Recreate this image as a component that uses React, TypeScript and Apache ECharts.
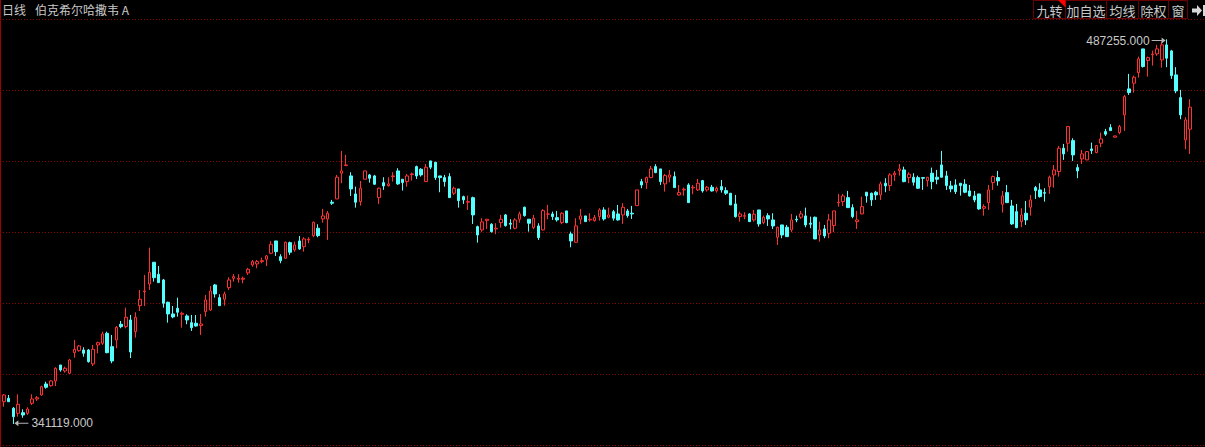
import { useEffect, useRef } from "react";
import * as echarts from "echarts";

// Daily OHLC (open, close, low, high)
const OPEN = [
349593,350885,347085,345185,345413,345185,348985,350619,352139,356319,
355673,357459,363539,361259,360385,368213,368973,369239,369239,363919,
371139,371785,375585,370493,373039,379005,378093,380639,376193,386073,
391393,394319,402565,398005,395839,387365,382919,385085,382805,382159,
379613,379385,378473,383793,384439,393939,389113,388505,392913,396485,
396105,396105,398499,401539,401919,402793,403705,405985,410659,404693,
404085,410013,407239,410659,408493,411039,412673,415485,419019,419019,
425365,426619,436385,439273,435359,428519,425593,434105,435739,435359,
427113,432813,431673,435093,437259,434105,433193,435853,438893,437905,
433193,441059,440565,435359,434713,435093,428785,430419,427493,425365,
427113,416093,414839,418373,417005,415219,417613,420539,417385,415485,
418905,423465,418905,415713,416359,414839,420805,420919,419513,417613,
422059,413319,410165,418905,420159,418639,418373,419893,422439,419665,
421793,420919,420539,422059,421185,424073,433193,432813,434713,438893,
438019,432319,434865,435093,428139,430039,431939,430799,430039,433573,
430039,431065,429659,431293,429773,428785,424719,419893,420045,420919,
418639,422439,417613,420273,418639,412065,416739,415865,414839,418905,
419665,420159,417385,419665,412939,415219,413585,416473,425099,425593,
427113,423313,417993,420919,429165,428785,429165,428139,432585,431673,
435739,437373,437639,434713,434865,434713,434713,433573,436385,434865,
439539,435359,431559,431939,432585,432205,429659,427759,428519,423085,
425213,432813,434713,424605,429013,423959,421793,417993,421185,423465,
430913,430039,429013,431293,435739,436993,445885,447785,448773,438513,
441819,441439,445619,444213,447785,452193,453713,450065,451813,458539,
468419,470585,474613,483619,479173,481339,481719,479439,485139,482859,
473739,465113,449039,453105,
];
const CLOSE = [
352139,349593,343893,348605,344539,346819,350619,351113,355293,355065,
357459,362285,361639,362285,365439,369505,370759,367985,364793,369505,
372013,375319,368213,365059,377865,378093,381665,368479,381665,388505,
391659,398765,396713,394813,386985,382919,381779,383565,383185,380639,
377713,378359,379119,388239,391659,390519,386073,390519,395839,397093,
396485,396485,399905,402793,402793,403173,404959,409405,406593,403173,
410165,406365,409139,407619,411419,411305,417765,412673,420159,421185,
424985,434865,437259,439539,430419,425365,430685,437259,434485,432205,
430685,431559,432319,435359,432319,432813,435359,436119,435359,435739,
438665,438665,434713,434713,433193,427113,430685,425973,426239,425593,
420539,412939,417879,418905,414193,415485,418905,416473,417005,418639,
420919,420273,417385,419285,411913,422173,420919,419893,418639,421185,
417613,410659,416359,420159,417993,418905,419513,422439,419019,420539,
419285,418639,423465,420273,420919,430039,431939,434713,438019,436613,
433193,435473,435739,430913,429013,430305,425213,431065,432585,429659,
431065,429659,430685,430039,428785,424339,419893,420919,420273,417993,
420805,417119,419665,419019,416359,415865,412939,412293,418639,418639,
420919,416739,417005,411419,414839,412559,418639,422059,425365,427759,
423313,419893,418639,423693,427759,426239,428139,432319,431559,435739,
436385,438019,433193,436005,432965,430685,434485,434865,433193,434105,
434865,431673,430419,429393,431673,429165,427759,426239,422819,423693,
430039,435093,433459,427759,425213,417119,415713,420539,418639,426239,
429773,427493,428785,434865,437639,445885,443719,454093,443339,437259,
443719,444593,444973,446873,449419,451205,452573,450559,454093,465493,
467013,472865,479819,476893,480313,481605,483619,485139,480085,473473,
467659,458539,456639,461465,
];
const LOW = [
347693,349593,341119,343893,343513,344539,348339,349859,351873,354533,
355293,355559,360993,360613,360119,366313,368593,366693,364413,363159,
367985,371139,367985,364185,369885,377485,377485,366199,373913,384059,
385959,392039,395193,394813,385313,379613,381285,381893,377713,379005,
376459,378093,374939,381893,384059,389113,385959,386073,392039,395193,
394813,394585,397739,400893,400285,402185,401159,405605,404959,402185,
403819,405339,406593,407239,406593,409785,412065,412065,417613,411039,
424339,426619,432585,439273,427759,423313,424073,434105,432813,431939,
424719,430039,431293,433193,431939,429773,431293,433573,434219,435093,
433193,437905,433839,429165,431293,427113,428139,423313,424719,422439,
417119,410013,414079,415219,413813,413205,415713,416093,415105,415105,
417613,419893,414193,415105,411039,414573,418905,418639,417993,417005,
417385,408265,410013,417005,417993,417993,417993,418373,418373,419285,
418373,418373,417119,419513,419019,424073,430685,430419,434485,436385,
431939,429393,432965,430913,427873,427873,425213,428405,429659,429013,
429393,429393,429013,429013,428139,424339,419513,417993,418905,417993,
417993,416093,417005,416359,415219,409139,411685,412293,413965,417765,
419019,415865,415485,411419,410393,411685,411685,413965,423693,423959,
423313,419285,415219,420805,425213,423959,426239,426239,429165,429659,
433459,435473,432965,432585,431673,430419,430039,431293,430305,432205,
434865,430039,429165,428519,427873,428785,427493,425365,422439,420273,
422439,430039,431673,421413,425213,416739,415485,415865,416739,420273,
426619,427113,425593,428519,430913,435093,441439,444593,441059,434485,
439919,441439,443719,443985,446265,450559,452573,450065,451205,452459,
466139,467013,472713,476513,473093,477273,480959,476513,476665,472219,
466785,456905,445505,443719,
];
const HIGH = [
352519,352139,347579,352405,346705,347465,352405,351759,355673,357193,
357839,362665,363539,362893,365819,373039,371139,370265,369619,371139,
372393,376193,376193,374939,378359,380259,385313,382539,383565,392039,
397739,408113,402565,401159,396219,387593,385959,389113,383793,382805,
382539,382539,382919,390139,393559,394319,390405,391393,396865,398119,
398005,397093,400399,403439,403439,404313,405339,410659,410659,405605,
410393,410393,410393,412559,412065,412065,417993,417005,422819,422059,
426239,435739,444859,443339,436765,431293,433459,437259,436119,435739,
430913,434865,434865,436765,438285,434105,436119,436613,439273,438285,
439919,441059,440565,435359,435739,436385,431293,430419,427873,427873,
427493,416473,419285,418905,417385,417385,420539,420919,418905,419285,
421793,423693,418905,420539,417385,422705,424339,421793,422059,421565,
422059,414193,419285,422819,420159,421185,420539,423085,423465,423313,
422439,424339,424985,422819,423959,430039,434219,435093,439159,439805,
438019,436119,437639,436993,431939,430913,432585,431939,434219,433839,
431559,431939,431293,433839,431065,428785,428139,421793,421565,421185,
422439,422439,420273,421185,421185,416093,416739,416739,420919,420273,
422059,423313,419893,419893,417993,416739,420919,422059,428519,428519,
429659,424605,422059,427493,429165,429013,429659,433193,434485,436385,
437259,439919,438893,436765,436385,435473,434713,434865,438513,437639,
444859,437259,433459,434105,432585,434105,431939,429659,428519,424605,
431939,435473,437259,429659,431939,426239,424719,423085,425859,428139,
431559,432585,430685,435473,439539,446759,447519,454359,449685,439805,
445239,444593,448013,447139,451813,453219,455005,450559,454739,466139,
474119,473473,480693,483619,480693,482973,485139,486393,487255,483239,
476665,468039,457665,464505,
];
const DAYS = OPEN.map((_, i) => String(i + 1));

const TITLE_PERIOD = "日线";
const TITLE_NAME = "伯克希尔哈撒韦 A";
const BUTTONS = ["九转", "加自选", "均线", "除权", "窗"];

// layout constants
const W = 1205;
const H = 447;
const GRID_TOP = 19.5;
const GRID_BOTTOM = 1.5;
const Y_MIN = 332950;
const Y_MAX = 494780;
const UP = "#ff3232";
const DOWN = "#54ffff";
const GRIDLINE = "#8c0000";
const TEXT = "#c8c8c8";
const CJK = "'Noto Sans CJK SC', 'Noto Sans', sans-serif";
const LATIN = "'Liberation Sans', Arial, sans-serif";

export default function App() {
  const ref = useRef<HTMLDivElement>(null);
  useEffect(() => {
    const chart = echarts.init(ref.current!, null, { renderer: "svg" });
    const data = OPEN.map((o, i) => [o, CLOSE[i], LOW[i], HIGH[i]]);

    const btnEdges = [1033.5, 1065.5, 1106.5, 1138.5, 1168.5, 1187.5];
    const graphics: any[] = [];
    graphics.push({
      type: "text",
      left: 2,
      top: 3,
      style: { text: TITLE_PERIOD, fill: TEXT, font: `12px ${CJK}` },
    });
    graphics.push({
      type: "text",
      left: 35,
      top: 3,
      style: { text: TITLE_NAME, fill: TEXT, font: `12px ${CJK}` },
    });
    BUTTONS.forEach((b, i) => {
      const x0 = btnEdges[i];
      const x1 = btnEdges[i + 1];
      graphics.push({
        type: "rect",
        shape: { x: x0, y: 0.5, width: x1 - x0, height: 18 },
        style: { fill: "#000", stroke: "#6a0000", lineWidth: 1 },
      });
      graphics.push({
        type: "text",
        x: (x0 + x1) / 2,
        y: 10,
        style: {
          text: b,
          fill: TEXT,
          font: `13px ${CJK}`,
          align: "center",
          verticalAlign: "middle",
        },
      });
    });
    graphics.push({
      type: "polygon",
      shape: { points: [[1058, 0], [1065.5, 0], [1065.5, 7.5]] },
      style: { fill: "#ff0000" },
    });
    graphics.push({
      type: "polygon",
      shape: {
        points: [
          [1192, 8.5], [1197, 8.5], [1197, 5], [1202, 10.5],
          [1197, 16], [1197, 12.5], [1192, 12.5],
        ],
      },
      style: { fill: "#d8d8d8" },
    });
    graphics.push({
      type: "rect",
      shape: { x: 1203, y: 5, width: 2, height: 11 },
      style: { fill: "#d8d8d8" },
    });
    graphics.push({
      type: "line",
      shape: { x1: 0.5, y1: 0, x2: 0.5, y2: H },
      style: { stroke: "#a00000", lineWidth: 1 },
    });

    const option: any = {
      animation: false,
      backgroundColor: "#000",
      grid: [
        { left: 1.66, right: 12.6, top: GRID_TOP, bottom: GRID_BOTTOM },
        { left: 0, right: 0, top: GRID_TOP, bottom: GRID_BOTTOM },
      ],
      xAxis: [
        {
          type: "category",
          data: DAYS,
          gridIndex: 0,
          boundaryGap: true,
          axisLine: { show: false },
          axisTick: { show: false },
          axisLabel: { show: false },
          splitLine: { show: false },
        },
        { type: "value", gridIndex: 1, show: false, min: 0, max: 1 },
      ],
      yAxis: [
        {
          type: "value",
          gridIndex: 0,
          min: Y_MIN,
          max: Y_MAX,
          axisLine: { show: false },
          axisTick: { show: false },
          axisLabel: { show: false },
          splitLine: { show: false },
        },
        {
          type: "value",
          gridIndex: 1,
          min: 0,
          max: 6,
          interval: 1,
          axisLine: { show: false },
          axisTick: { show: false },
          axisLabel: { show: false },
          splitLine: {
            show: true,
            lineStyle: { color: GRIDLINE, width: 1, type: [1, 2] },
          },
        },
      ],
      series: [
        {
          type: "candlestick",
          xAxisIndex: 0,
          yAxisIndex: 0,
          data,
          barWidth: 3,
          itemStyle: {
            color: "#000",
            color0: DOWN,
            borderColor: UP,
            borderColor0: DOWN,
            borderWidth: 1,
          },
          markPoint: {
            silent: true,
            data: [
              {
                type: "max",
                valueDim: "highest",
                symbol: "path://M0,3L10,3L10,0.5L14,3.5L10,6.5L10,4L0,4Z",
                symbolSize: [14, 6],
                symbolOffset: [-8, 1.2],
                itemStyle: { color: "#b4b4b4" },
                label: {
                  show: true,
                  position: "left",
                  distance: 2,
                  color: TEXT,
                  fontSize: 12,
                  fontFamily: LATIN,
                  formatter: (p: any) => Number(p.value).toFixed(3),
                },
              },
              {
                type: "min",
                valueDim: "lowest",
                symbol: "path://M14,3L4,3L4,0.5L0,3.5L4,6.5L4,4L14,4Z",
                symbolSize: [14, 6],
                symbolOffset: [8, -0.7],
                itemStyle: { color: "#b4b4b4" },
                label: {
                  show: true,
                  position: "right",
                  distance: 3,
                  color: TEXT,
                  fontSize: 12,
                  fontFamily: LATIN,
                  formatter: (p: any) => Number(p.value).toFixed(3),
                },
              },
            ],
          },
        },
      ],
      graphic: graphics,
    };
    chart.setOption(option);
    return () => chart.dispose();
  }, []);
  return (
    <div
      ref={ref}
      style={{ position: "fixed", left: 0, top: 0, width: W, height: H, background: "#000" }}
    />
  );
}
